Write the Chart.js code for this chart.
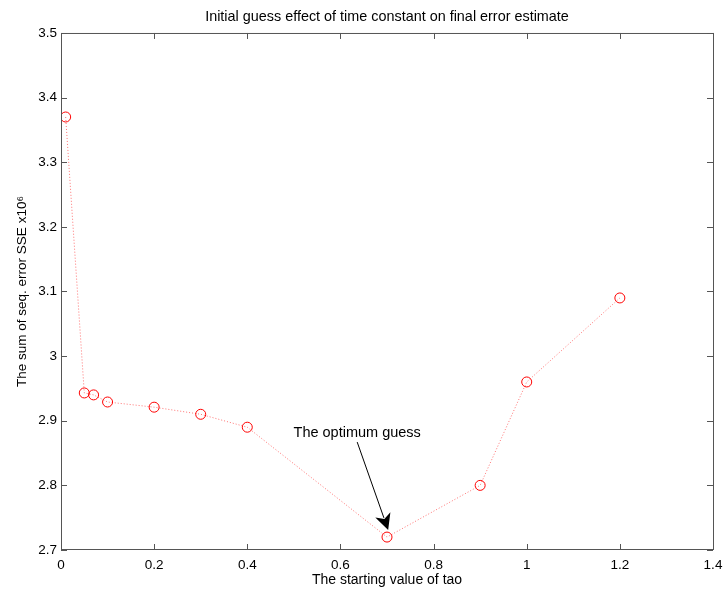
<!DOCTYPE html>
<html>
<head>
<meta charset="utf-8">
<script src="https://cdn.jsdelivr.net/npm/chart.js@4/dist/chart.umd.min.js"></script>
<style>
  html, body { margin: 0; padding: 0; background: #fff; }
  #wrap { width: 728px; height: 590px; }
</style>
</head>
<body>
<div id="wrap"><canvas id="chart" width="728" height="590"></canvas></div>
<script>
// starting value of tao and resulting SSE (x10^6)
const tao = [0.01, 0.05, 0.07, 0.1, 0.2, 0.3, 0.4, 0.7, 0.9, 1.0, 1.2];
const sse = [3.37, 2.943, 2.94, 2.929, 2.921, 2.91, 2.89, 2.72, 2.80, 2.96, 3.09];

const xTicks = [0, 0.2, 0.4, 0.6, 0.8, 1, 1.2, 1.4];
const yTicks = [2.7, 2.8, 2.9, 3, 3.1, 3.2, 3.3, 3.4, 3.5];

const noteText = "The optimum guess";
const noteAt = [0.636, 2.881];      // text centre
const arrowFrom = [0.636, 2.867];
const arrowTo = [0.7025, 2.731];

const FONT = "'Liberation Sans', Arial, Helvetica, sans-serif";

// matlab style box with inward ticks on all sides
const boxPlugin = {
  id: 'box',
  afterDraw(chart) {
    const { ctx, chartArea: a, scales } = chart;
    ctx.save();
    ctx.strokeStyle = '#555';
    ctx.lineWidth = 1;
    ctx.strokeRect(a.left + 0.5, a.top + 0.5, a.right - a.left, a.bottom - a.top - 1);
    ctx.beginPath();
    xTicks.forEach(v => {
      const px = Math.round(scales.x.getPixelForValue(v)) + 0.5;
      ctx.moveTo(px, a.bottom); ctx.lineTo(px, a.bottom - 6);
      ctx.moveTo(px, a.top); ctx.lineTo(px, a.top + 6);
    });
    yTicks.forEach(v => {
      const py = Math.round(scales.y.getPixelForValue(v)) + 0.5;
      ctx.moveTo(a.left, py); ctx.lineTo(a.left + 6, py);
      ctx.moveTo(a.right, py); ctx.lineTo(a.right - 6, py);
    });
    ctx.stroke();
    ctx.restore();
  }
};

const notePlugin = {
  id: 'note',
  afterDatasetsDraw(chart) {
    const { ctx, scales } = chart;
    const x0 = scales.x.getPixelForValue(arrowFrom[0]);
    const y0 = scales.y.getPixelForValue(arrowFrom[1]);
    const x1 = scales.x.getPixelForValue(arrowTo[0]);
    const y1 = scales.y.getPixelForValue(arrowTo[1]);
    const ang = Math.atan2(y1 - y0, x1 - x0);
    const len = 16, half = 8;
    const c = Math.cos(ang), s = Math.sin(ang);
    ctx.save();
    ctx.strokeStyle = '#000';
    ctx.fillStyle = '#000';
    ctx.lineWidth = 1;
    ctx.beginPath();
    ctx.moveTo(x0, y0);
    ctx.lineTo(x1 - c * len * 0.8, y1 - s * len * 0.8);
    ctx.stroke();
    ctx.beginPath();
    ctx.moveTo(x1, y1);
    ctx.lineTo(x1 - c * len - s * half, y1 - s * len + c * half);
    ctx.lineTo(x1 - c * len * 0.72, y1 - s * len * 0.72);
    ctx.lineTo(x1 - c * len + s * half, y1 - s * len - c * half);
    ctx.closePath();
    ctx.fill();
    ctx.font = '14.5px ' + FONT;
    ctx.textAlign = 'center';
    ctx.textBaseline = 'middle';
    ctx.fillText(noteText, scales.x.getPixelForValue(noteAt[0]), scales.y.getPixelForValue(noteAt[1]));
    ctx.restore();
  }
};

const fmt = v => String(Number(v.toFixed(1)));

new Chart(document.getElementById('chart'), {
  type: 'line',
  data: {
    datasets: [{
      data: tao.map((t, i) => ({ x: t, y: sse[i] })),
      borderColor: 'rgba(255,0,0,0.55)',
      borderWidth: 1,
      borderDash: [1, 2],
      pointStyle: 'circle',
      pointRadius: 5,
      pointBorderWidth: 1,
      pointBorderColor: '#ff0000',
      pointBackgroundColor: 'rgba(0,0,0,0)',
      tension: 0,
      fill: false
    }]
  },
  options: {
    responsive: false,
    animation: false,
    layout: { padding: { left: 0, right: 15, top: 0, bottom: 0 } },
    plugins: {
      legend: { display: false },
      tooltip: { enabled: false },
      title: {
        display: true,
        fullSize: false,
        text: 'Initial guess effect of time constant on final error estimate',
        color: '#000',
        font: { family: FONT, size: 14.4, weight: 'normal' },
        padding: { top: 8.5, bottom: 7.2 }
      }
    },
    scales: {
      x: {
        type: 'linear',
        min: 0, max: 1.4,
        afterBuildTicks: s => { s.ticks = xTicks.map(v => ({ value: v })); },
        afterFit: s => { s.height = 40; s.paddingRight = 0; s.paddingLeft = 0; },
        grid: { display: false, drawTicks: false },
        border: { display: false },
        ticks: { color: '#000', padding: 7, font: { family: FONT, size: 13.5 }, callback: fmt, maxRotation: 0 },
        title: { display: true, text: 'The starting value of tao', color: '#000', font: { family: FONT, size: 14 }, padding: { top: 0, bottom: 1.6 } }
      },
      y: {
        type: 'linear',
        min: 2.7, max: 3.5,
        afterBuildTicks: s => { s.ticks = yTicks.map(v => ({ value: v })); },
        afterFit: s => { s.width = 61; },
        grid: { display: false, drawTicks: false },
        border: { display: false },
        ticks: { color: '#000', padding: 4, font: { family: FONT, size: 13.5 }, callback: fmt },
        title: { display: true, text: 'The sum of seq. error SSE x10⁶', color: '#000', font: { family: FONT, size: 13.5 }, padding: { top: 14.5, bottom: 0 } }
      }
    }
  },
  plugins: [boxPlugin, notePlugin]
});
</script>
</body>
</html>
